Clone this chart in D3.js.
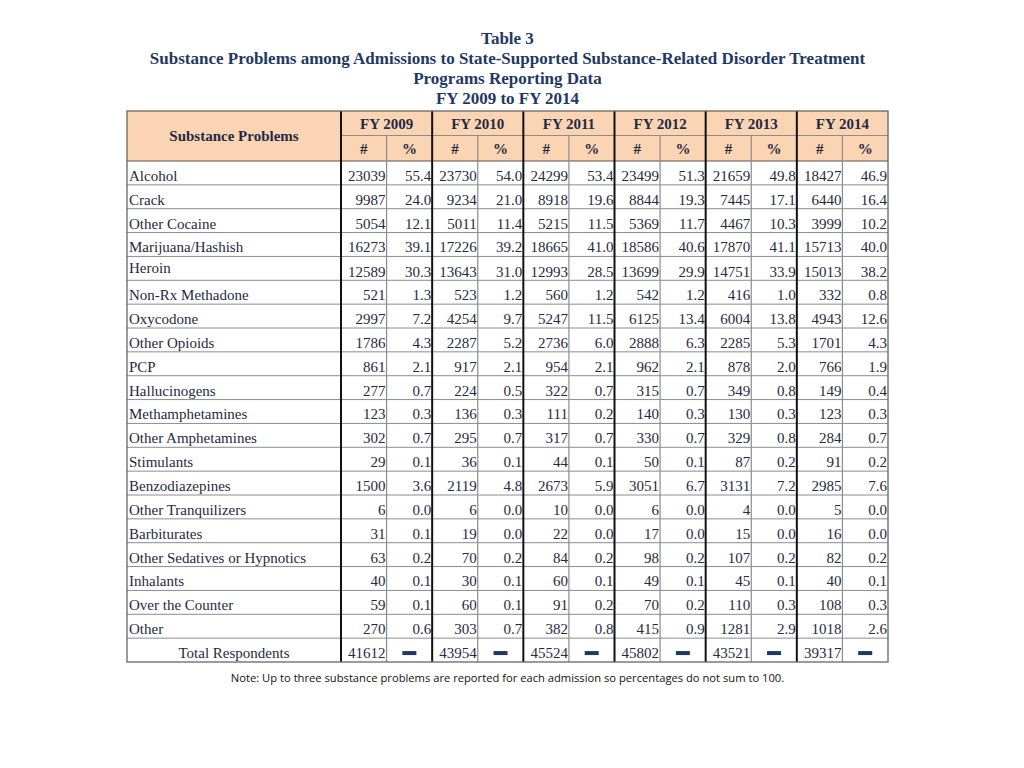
<!DOCTYPE html>
<html><head><meta charset="utf-8">
<script src="https://cdn.jsdelivr.net/npm/d3@7"></script>
<style>body{margin:0;background:#fff;} svg{display:block;}</style>
</head><body>
<svg id="c" width="1024" height="768"></svg>
<script>
const titleLines = ["Table 3","Substance Problems among Admissions to State-Supported Substance-Related Disorder Treatment","Programs Reporting Data","FY 2009 to FY 2014"];
const years = ["FY 2009","FY 2010","FY 2011","FY 2012","FY 2013","FY 2014"];
const subCols = ["#","%"];
const substances = ["Alcohol","Crack","Other Cocaine","Marijuana/Hashish","Heroin","Non-Rx Methadone","Oxycodone","Other Opioids","PCP","Hallucinogens","Methamphetamines","Other Amphetamines","Stimulants","Benzodiazepines","Other Tranquilizers","Barbiturates","Other Sedatives or Hypnotics","Inhalants","Over the Counter","Other"];
const counts2009 = [23039,9987,5054,16273,12589,521,2997,1786,861,277,123,302,29,1500,6,31,63,40,59,270];
const pct2009 = [55.4,24.0,12.1,39.1,30.3,1.3,7.2,4.3,2.1,0.7,0.3,0.7,0.1,3.6,0.0,0.1,0.2,0.1,0.1,0.6];
const counts2010 = [23730,9234,5011,17226,13643,523,4254,2287,917,224,136,295,36,2119,6,19,70,30,60,303];
const pct2010 = [54.0,21.0,11.4,39.2,31.0,1.2,9.7,5.2,2.1,0.5,0.3,0.7,0.1,4.8,0.0,0.0,0.2,0.1,0.1,0.7];
const counts2011 = [24299,8918,5215,18665,12993,560,5247,2736,954,322,111,317,44,2673,10,22,84,60,91,382];
const pct2011 = [53.4,19.6,11.5,41.0,28.5,1.2,11.5,6.0,2.1,0.7,0.2,0.7,0.1,5.9,0.0,0.0,0.2,0.1,0.2,0.8];
const counts2012 = [23499,8844,5369,18586,13699,542,6125,2888,962,315,140,330,50,3051,6,17,98,49,70,415];
const pct2012 = [51.3,19.3,11.7,40.6,29.9,1.2,13.4,6.3,2.1,0.7,0.3,0.7,0.1,6.7,0.0,0.0,0.2,0.1,0.2,0.9];
const counts2013 = [21659,7445,4467,17870,14751,416,6004,2285,878,349,130,329,87,3131,4,15,107,45,110,1281];
const pct2013 = [49.8,17.1,10.3,41.1,33.9,1.0,13.8,5.3,2.0,0.8,0.3,0.8,0.2,7.2,0.0,0.0,0.2,0.1,0.3,2.9];
const counts2014 = [18427,6440,3999,15713,15013,332,4943,1701,766,149,123,284,91,2985,5,16,82,40,108,1018];
const pct2014 = [46.9,16.4,10.2,40.0,38.2,0.8,12.6,4.3,1.9,0.4,0.3,0.7,0.2,7.6,0.0,0.0,0.2,0.1,0.3,2.6];
const totalLabel = "Total Respondents";
const totals = [41612,43954,45524,45802,43521,39317];
const headerLabel = "Substance Problems";
const note = "Note: Up to three substance problems are reported for each admission so percentages do not sum to 100.";

const countsByYear = [counts2009,counts2010,counts2011,counts2012,counts2013,counts2014];
const pctByYear = [pct2009,pct2010,pct2011,pct2012,pct2013,pct2014];

const svg = d3.select("#c");
const navy = "#1f3864";
const txt = "#1f2a44";
const serif = "'Liberation Serif','Times New Roman',serif";

const left = 127, right = 888, labelRight = 341;
const headTop = 111, headMid = 135.5, headBot = 161, tableBot = 662;

const xYear = d3.scaleBand().domain(years).range([labelRight, right]);
const xSub = d3.scaleBand().domain(subCols).range([0, xYear.bandwidth()]);
const rowKeys = substances.concat([totalLabel]);
const y = d3.scaleBand().domain(rowKeys).range([headBot, tableBot]);

// Title
svg.append("g").selectAll("text").data(titleLines).join("text")
  .attr("x", (left+right)/2).attr("y", (d,i)=>44 + i*20)
  .attr("text-anchor","middle").attr("font-family",serif).attr("font-weight","bold")
  .attr("font-size", 17).attr("fill", navy).text(d=>d);

// Header background
svg.append("rect").attr("x",left).attr("y",headTop).attr("width",right-left).attr("height",headBot-headTop)
  .attr("fill","#fbd4b4");

// Header text
svg.append("text").attr("x",(left+labelRight)/2).attr("y",141).attr("text-anchor","middle")
  .attr("font-family",serif).attr("font-weight","bold").attr("font-size",15).attr("fill",txt).text(headerLabel);
svg.append("g").selectAll("text").data(years).join("text")
  .attr("x", d=>xYear(d)+xYear.bandwidth()/2).attr("y",129).attr("text-anchor","middle")
  .attr("font-family",serif).attr("font-weight","bold").attr("font-size",15).attr("fill",txt).text(d=>d);
const subPairs = years.flatMap(yr=>subCols.map(s=>({yr,s})));
svg.append("g").selectAll("text").data(subPairs).join("text")
  .attr("x", d=>xYear(d.yr)+xSub(d.s)+xSub.bandwidth()/2).attr("y",154).attr("text-anchor","middle")
  .attr("font-family",serif).attr("font-weight","bold").attr("font-size",15).attr("fill",txt).text(d=>d.s);

// Row labels
const labG = svg.append("g");
labG.selectAll("text").data(substances).join("text")
  .attr("x", left+2).attr("y", d=> y(d)+y.bandwidth()-4 - (d==="Heroin"?3:0))
  .attr("font-family",serif).attr("font-size",15).attr("fill",txt).text(d=>d);
labG.append("text").attr("x",(left+labelRight)/2).attr("y",y(totalLabel)+y.bandwidth()-4)
  .attr("text-anchor","middle").attr("font-family",serif).attr("font-size",15).attr("fill",txt).text(totalLabel);

// Data cells
const cells = [];
years.forEach((yr,j)=>{
  substances.forEach((s,i)=>{
    cells.push({yr, s, sub:"#", v: String(countsByYear[j][i])});
    cells.push({yr, s, sub:"%", v: pctByYear[j][i].toFixed(1)});
  });
  cells.push({yr, s: totalLabel, sub:"#", v: String(totals[j])});
});
svg.append("g").selectAll("text").data(cells).join("text")
  .attr("x", d=>xYear(d.yr)+xSub(d.sub)+xSub.bandwidth()-1)
  .attr("y", d=>y(d.s)+y.bandwidth()-4 + (d.s==="Heroin"?1:0))
  .attr("text-anchor","end").attr("font-family",serif).attr("font-size",15).attr("fill",txt).text(d=>d.v);

// Dashes in total % cells
svg.append("g").selectAll("rect").data(years).join("rect")
  .attr("x", d=>xYear(d)+xSub("%")+xSub.bandwidth()/2-7)
  .attr("y", y(totalLabel)+y.bandwidth()/2+1)
  .attr("width",14).attr("height",4).attr("fill",navy);

// Grid lines
const g = svg.append("g");
g.selectAll("line.h").data(rowKeys.slice(1)).join("line")
  .attr("x1",left).attr("x2",right).attr("y1",d=>y(d)).attr("y2",d=>y(d))
  .attr("stroke","#8c8c8c").attr("stroke-width",1);
g.append("line").attr("x1",labelRight).attr("x2",right).attr("y1",headMid).attr("y2",headMid)
  .attr("stroke","#8c8c8c").attr("stroke-width",1);
g.append("line").attr("x1",left).attr("x2",right).attr("y1",headBot).attr("y2",headBot)
  .attr("stroke","#555").attr("stroke-width",1.2);
g.selectAll("line.s").data(years).join("line")
  .attr("x1",d=>xYear(d)+xSub("%")).attr("x2",d=>xYear(d)+xSub("%"))
  .attr("y1",headMid).attr("y2",tableBot).attr("stroke","#8c8c8c").attr("stroke-width",1.2);
g.selectAll("line.y").data(years).join("line")
  .attr("x1",d=>xYear(d)).attr("x2",d=>xYear(d)).attr("y1",headTop).attr("y2",tableBot)
  .attr("stroke","#111").attr("stroke-width",2);
g.append("rect").attr("x",left).attr("y",headTop).attr("width",right-left).attr("height",tableBot-headTop)
  .attr("fill","none").attr("stroke","#666").attr("stroke-width",1.3);

// Note
svg.append("text").attr("x",(left+right)/2).attr("y",682).attr("text-anchor","middle")
  .attr("font-family","'Open Sans','Noto Sans',sans-serif").attr("font-size",11.2).attr("fill","#111").text(note);
</script>
</body></html>
